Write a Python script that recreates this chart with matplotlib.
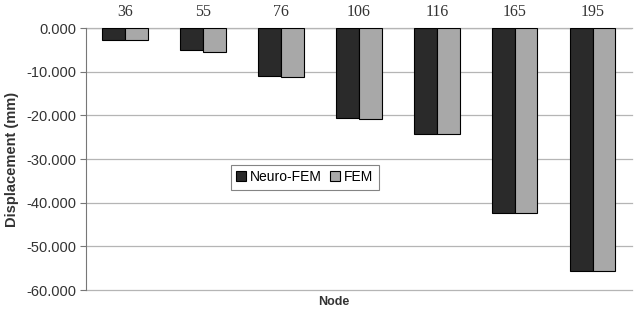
import matplotlib.pyplot as plt
import numpy as np

nodes = ['36', '55', '76', '106', '116', '165', '195']
neuro_fem = [-2.7, -5.0, -11.0, -20.7, -24.3, -42.4, -55.7]
fem = [-2.8, -5.5, -11.2, -20.8, -24.3, -42.4, -55.7]

fig = plt.figure(figsize=(6.34, 3.10), dpi=100)
ax = fig.add_axes([0.1356, 0.0645, 0.861, 0.845])

x = np.arange(len(nodes))
w = 0.29
ax.bar(x - w / 2, neuro_fem, w, color='#2a2a2a', edgecolor='black', linewidth=0.8,
       label='Neuro-FEM', zorder=3)
ax.bar(x + w / 2, fem, w, color='#a8a8a8', edgecolor='black', linewidth=0.8,
       label='FEM', zorder=3)

ax.set_xlim(-0.5, len(nodes) - 0.5)
ax.set_ylim(-60, 0)
ax.set_yticks(np.arange(-60, 1, 10))
ax.set_yticklabels([f'{v:.3f}' for v in np.arange(-60, 1, 10)],
                   family='Liberation Sans', fontsize=10.5, color='#333333')
ax.yaxis.grid(True, color='#b5b5b5', linewidth=0.9, zorder=0)
for gl in ax.get_ygridlines():
    gl.set_clip_on(False)

ax.xaxis.tick_top()
ax.set_xticks(x)
ax.set_xticklabels(nodes, family='Liberation Serif', fontsize=11.5, color='#333333')
ax.tick_params(axis='x', length=0, pad=6)
ax.tick_params(axis='y', length=4, width=0.8, color='#777777', pad=3)

for s in ['top', 'right', 'bottom']:
    ax.spines[s].set_visible(False)
ax.spines['left'].set_color('#777777')
ax.spines['left'].set_linewidth(0.8)
ax.axhline(0, color='#888888', linewidth=0.9, zorder=1)

ax.set_ylabel('Displacement (mm)', family='Liberation Sans', fontsize=10.5,
              fontweight='bold', color='#333333', labelpad=5)

fig.text(0.527, 0.005, 'Node', family='Liberation Sans', fontsize=9,
         fontweight='bold', color='#333333', ha='center', va='bottom')

leg = ax.legend(loc='center', bbox_to_anchor=(0.401, 0.431), ncol=2, frameon=True,
                fancybox=False, edgecolor='#666666',
                prop={'family': 'Liberation Sans', 'size': 10},
                handlelength=0.7, handleheight=0.7, handletextpad=0.3,
                columnspacing=0.6, borderpad=0.4)
leg.get_frame().set_linewidth(0.8)

fig.savefig('out.png', dpi=100)
